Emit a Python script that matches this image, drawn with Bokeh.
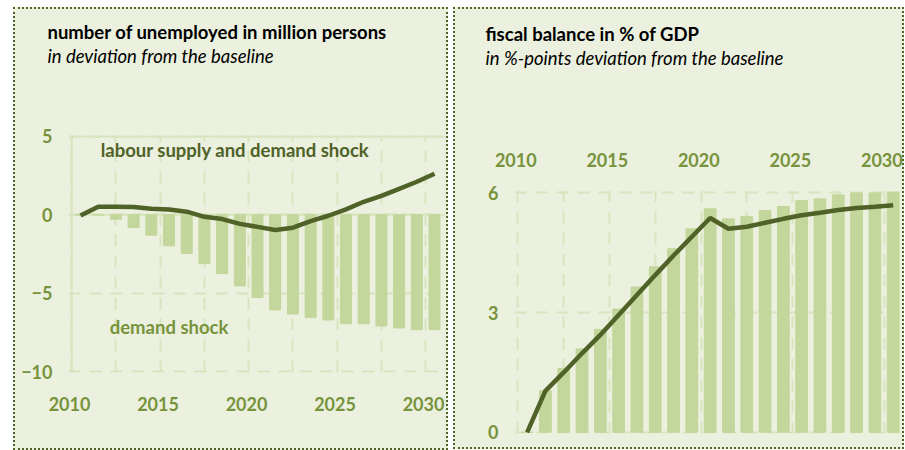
from bokeh.plotting import figure
from bokeh.models import FixedTicker, Label, Span, CustomJSTickFormatter, Title
from bokeh.layouts import row
from bokeh.embed import file_html
from bokeh.resources import INLINE

# ---------------- data ----------------
years = list(range(2010, 2031))
demand_shock = [0, 0, -0.28, -0.81, -1.30, -1.98, -2.47, -3.11, -3.75, -4.54, -5.28,
                -6.07, -6.33, -6.56, -6.71, -6.95, -6.95, -7.09, -7.22, -7.33, -7.33]
labour_and_demand = [-0.05, 0.52, 0.52, 0.5, 0.38, 0.34, 0.2, -0.13, -0.27, -0.58, -0.77,
                     -0.97, -0.82, -0.4, -0.06, 0.35, 0.83, 1.21, 1.66, 2.11, 2.62]
fiscal_bars = [0, 1.04, 1.6, 2.09, 2.58, 3.09, 3.64, 4.15, 4.6, 5.1, 5.6,
               5.35, 5.41, 5.56, 5.66, 5.81, 5.85, 5.95, 6.0, 6.0, 6.02]
fiscal_line = [0, 1.04, 1.5, 1.98, 2.44, 2.94, 3.44, 3.94, 4.43, 4.9, 5.37,
               5.1, 5.15, 5.25, 5.35, 5.44, 5.5, 5.57, 5.62, 5.65, 5.69]
tick_years = [2010, 2015, 2020, 2025, 2030]
unemp_ticks = [-10, -5, 0, 5]
fiscal_ticks = [0, 3, 6]

# ---------------- style ----------------
BG = "#ebf1de"
BAR = "#c3d69b"
LINE = "#4f6228"
TICK = "#77933c"
GRID = "#d7e4bd"
FONT = "Lato"
TITLE_SIZE = "18.5px"
LABEL_SHIFT = -0.62
grid_years = [2009.5 + 2.5 * k for k in range(9)]
panel_style = {"background-color": BG, "outline": "2px dotted #4f6228", "outline-offset": "-2px"}

fmt = CustomJSTickFormatter(code="return String(Math.round(tick + 0.62));")


def style_axes(p, xstandoff, ystandoff):
    for ax in list(p.xaxis) + list(p.yaxis):
        ax.axis_line_color = None
        ax.major_tick_line_color = None
        ax.minor_tick_line_color = None
        ax.major_tick_out = 0
        ax.major_tick_in = 0
        ax.minor_tick_out = 0
        ax.major_label_text_color = TICK
        ax.major_label_text_font = FONT
        ax.major_label_text_font_style = "bold"
        ax.major_label_text_font_size = "18px"
    p.xaxis[0].major_label_standoff = xstandoff
    p.yaxis[0].major_label_standoff = ystandoff
    p.xaxis[0].ticker = FixedTicker(ticks=[y + LABEL_SHIFT for y in tick_years])
    p.xaxis[0].formatter = fmt
    p.xgrid.ticker = FixedTicker(ticks=grid_years)
    for g in (p.xgrid[0], p.ygrid[0]):
        g.grid_line_color = GRID
        g.grid_line_width = 2
        g.grid_line_dash = "12 9"
    try:
        p.frame_align = False
    except Exception:
        pass


def add_titles(p, offset, spacer_standoff, main_text, sub_text):
    p.add_layout(Title(text=" ", text_font=FONT, text_font_size="17px",
                       standoff=spacer_standoff), "above")
    p.add_layout(Title(text=sub_text, align="left", offset=offset, text_font=FONT,
                       text_font_size=TITLE_SIZE, text_font_style="italic", text_color="#000000",
                       standoff=0), "above")
    p.add_layout(Title(text=main_text, align="left", offset=offset, text_font=FONT,
                       text_font_size=TITLE_SIZE, text_font_style="bold", text_color="#000000",
                       standoff=0), "above")


def add_label(p, x, y, text, color):
    p.add_layout(Label(x=x, y=y, text=text, text_font=FONT, text_font_size="18.5px",
                       text_color=color, text_font_style="bold",
                       text_align="left", text_baseline="middle"))


# ---------------- left chart ----------------
p1 = figure(width=435, height=443, x_range=(2009.32, 2030.62), y_range=(-10.06, 5.06),
            output_backend="svg", toolbar_location=None,
            min_border_left=55, min_border_right=3, min_border_top=128, min_border_bottom=78,
            border_fill_color=None, background_fill_color=None, outline_line_color=None,
            styles=panel_style, margin=(7, 0, 0, 13))
style_axes(p1, 24, 16)
p1.yaxis[0].ticker = FixedTicker(ticks=unemp_ticks)
p1.ygrid.ticker = FixedTicker(ticks=unemp_ticks)
for loc in (0, 5):
    p1.add_layout(Span(location=loc, dimension="width", line_color=GRID, line_width=2, level="underlay"))
p1.add_layout(Span(location=2009.5, dimension="height", line_color=GRID, line_width=2, level="underlay"))

p1.vbar(x=years, top=0, bottom=demand_shock, width=0.62, color=BAR)
p1.line(x=years, y=labour_and_demand, line_color=LINE, line_width=4.5)

add_titles(p1, -21, 46, "number of unemployed in million persons", "in deviation from the baseline")
add_label(p1, 2011.14, 4.14, "labour supply and demand shock", LINE)
add_label(p1, 2011.65, -7.17, "demand shock", TICK)

# ---------------- right chart ----------------
p2 = figure(width=451, height=442, x_range=(2009.31, 2030.4), y_range=(-0.03, 6.06),
            x_axis_location="above", output_backend="svg", toolbar_location=None,
            min_border_left=61, min_border_right=4, min_border_top=183, min_border_bottom=16,
            border_fill_color=None, background_fill_color=None, outline_line_color=None,
            styles=panel_style, margin=(7, 0, 0, 0))
style_axes(p2, 24, 16)
p2.yaxis[0].ticker = FixedTicker(ticks=fiscal_ticks)
p2.ygrid.ticker = FixedTicker(ticks=fiscal_ticks)

p2.vbar(x=years, top=fiscal_bars, bottom=0, width=0.64, color=BAR)
p2.line(x=years, y=fiscal_line, line_color=LINE, line_width=4.5)

add_titles(p2, -29, 58, "fiscal balance in % of GDP", "in %-points deviation from the baseline")

layout = row(p1, p2, spacing=5)
open("out.html", "w").write(file_html(layout, INLINE))
